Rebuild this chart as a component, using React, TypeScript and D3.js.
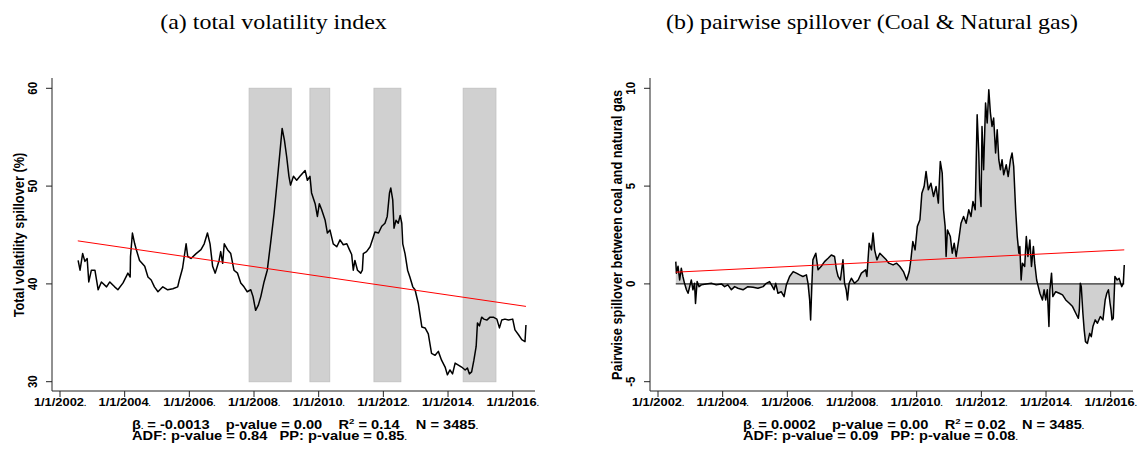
import React from "react";
import * as d3 from "d3";

// ---------- data ----------
const titleA = "(a) total volatility index";
const titleB = "(b) pairwise spillover (Coal & Natural gas)";
const yTitleA = "Total volatility spillover (%)";
const yTitleB = "Pairwise spillover between coal and natural gas";

const xTickYears = [2002, 2004, 2006, 2008, 2010, 2012, 2014, 2016];
const yTicksA = [30, 40, 50, 60];
const yTicksB = [-5, 0, 5, 10];

// shaded episodes (decimal year start, end)
const shadedPeriods: [number, number][] = [
  [2007.85, 2009.15],
  [2009.73, 2010.34],
  [2011.71, 2012.54],
  [2014.47, 2015.48],
];

// total volatility spillover (decimal year, %)
const totalSeries: [number, number][] = [
  [2002.56, 42.4], [2002.62, 41.4], [2002.7, 43.1], [2002.77, 42.3], [2002.84, 42.6],
  [2002.89, 40.2], [2002.97, 41.4], [2003.08, 41.4], [2003.13, 40.4], [2003.18, 39.4],
  [2003.28, 40.2], [2003.44, 39.7], [2003.54, 40.2], [2003.69, 39.7], [2003.79, 39.4],
  [2003.95, 40.1], [2004.1, 41.1], [2004.17, 40.7], [2004.18, 42.8], [2004.24, 45.2],
  [2004.31, 44.1], [2004.36, 43.5], [2004.46, 42.4], [2004.62, 41.8], [2004.72, 40.7],
  [2004.82, 40.4], [2004.92, 39.7], [2005.03, 39.2], [2005.18, 39.7], [2005.33, 39.4],
  [2005.49, 39.5], [2005.64, 39.7], [2005.69, 40.4], [2005.79, 41.6], [2005.9, 44.1],
  [2005.95, 42.8], [2006.05, 42.6], [2006.21, 43.1], [2006.36, 43.5], [2006.46, 44.1],
  [2006.56, 45.2], [2006.64, 44.1], [2006.72, 41.8], [2006.8, 41.1], [2006.92, 42.4],
  [2006.97, 43.3], [2007.03, 42.1], [2007.08, 44.1], [2007.18, 43.5], [2007.28, 43.1],
  [2007.38, 41.4], [2007.49, 41.1], [2007.59, 40.1], [2007.69, 39.7], [2007.79, 39.2],
  [2007.9, 39.4], [2007.97, 38.7], [2008.05, 37.3], [2008.13, 37.8], [2008.21, 38.7],
  [2008.31, 40.2], [2008.41, 41.4], [2008.51, 44.1], [2008.62, 47.2], [2008.72, 50.6],
  [2008.8, 53.4], [2008.87, 55.9], [2008.94, 54.7], [2009.01, 53.0], [2009.08, 51.0],
  [2009.13, 50.1], [2009.22, 51.0], [2009.32, 50.6], [2009.42, 51.0], [2009.58, 51.6],
  [2009.65, 50.6], [2009.73, 51.0], [2009.78, 49.3], [2009.89, 48.2], [2009.96, 46.9],
  [2010.02, 48.2], [2010.09, 47.6], [2010.2, 46.5], [2010.27, 45.2], [2010.35, 45.5],
  [2010.45, 44.1], [2010.56, 43.8], [2010.66, 44.5], [2010.76, 44.0], [2010.87, 44.1],
  [2010.95, 43.5], [2011.02, 43.0], [2011.07, 41.4], [2011.12, 42.4], [2011.2, 41.4],
  [2011.3, 41.1], [2011.35, 41.4], [2011.38, 43.1], [2011.48, 43.3], [2011.59, 43.8],
  [2011.69, 44.8], [2011.74, 45.3], [2011.85, 45.2], [2011.95, 45.9], [2012.05, 46.2],
  [2012.12, 46.9], [2012.19, 49.3], [2012.23, 49.8], [2012.29, 48.6], [2012.33, 45.7],
  [2012.39, 46.5], [2012.46, 46.2], [2012.52, 47.0], [2012.57, 46.2], [2012.6, 44.1],
  [2012.67, 43.1], [2012.75, 41.4], [2012.82, 40.7], [2012.91, 39.7], [2012.98, 39.4],
  [2013.08, 38.0], [2013.19, 35.6], [2013.29, 35.5], [2013.39, 34.9], [2013.49, 32.9],
  [2013.6, 32.7], [2013.7, 33.1], [2013.8, 32.2], [2013.91, 31.5], [2013.98, 30.7],
  [2014.06, 31.2], [2014.14, 30.8], [2014.22, 31.9], [2014.32, 31.7], [2014.42, 31.5],
  [2014.53, 31.2], [2014.6, 31.4], [2014.66, 30.8], [2014.73, 31.0], [2014.8, 32.2],
  [2014.87, 33.6], [2014.91, 36.0], [2014.97, 35.7], [2015.04, 36.6], [2015.11, 36.4],
  [2015.2, 36.3], [2015.3, 36.6], [2015.4, 36.6], [2015.51, 36.4], [2015.59, 35.5],
  [2015.66, 36.3], [2015.76, 36.4], [2015.87, 36.3], [2016.0, 36.4], [2016.07, 35.3],
  [2016.18, 34.8], [2016.28, 34.3], [2016.38, 34.1], [2016.41, 35.8],
];

// pairwise spillover coal & natural gas (decimal year, value)
const pairSeries: [number, number][] = [
  [2002.55, 1.14], [2002.57, 0.55], [2002.62, 0.9], [2002.67, 0.2], [2002.72, 0.8],
  [2002.77, 0.38], [2002.82, 0.03], [2002.88, -0.3], [2002.93, -0.48], [2002.98, -0.14],
  [2003.03, 0.2], [2003.08, -0.3], [2003.13, 0.03], [2003.16, -1.0], [2003.21, 0.12],
  [2003.27, -0.14], [2003.34, -0.05], [2003.49, 0.0], [2003.65, 0.03], [2003.8, -0.05],
  [2003.96, 0.0], [2004.06, -0.14], [2004.16, -0.05], [2004.27, -0.3], [2004.37, -0.14],
  [2004.47, -0.22], [2004.63, -0.3], [2004.78, -0.14], [2004.94, -0.17], [2005.09, -0.22],
  [2005.25, -0.14], [2005.35, 0.03], [2005.45, 0.12], [2005.54, -0.14], [2005.59, -0.3],
  [2005.64, 0.03], [2005.71, -0.48], [2005.81, -0.4], [2005.9, -0.65], [2005.97, -0.05],
  [2006.07, 0.38], [2006.18, 0.63], [2006.28, 0.55], [2006.38, 0.46], [2006.48, 0.38],
  [2006.59, 0.46], [2006.64, 0.03], [2006.69, -0.82], [2006.72, -1.84], [2006.76, 0.03],
  [2006.79, 1.23], [2006.88, 1.57], [2006.95, 0.72], [2007.05, 0.9], [2007.15, 1.14],
  [2007.26, 1.31], [2007.36, 1.48], [2007.46, 1.4], [2007.52, 0.72], [2007.57, 0.38],
  [2007.64, 0.2], [2007.72, 1.23], [2007.77, 0.03], [2007.82, -0.3], [2007.86, -0.82],
  [2007.91, 0.03], [2007.98, 0.29], [2008.08, 0.03], [2008.19, 0.2], [2008.29, 0.55],
  [2008.42, 0.72], [2008.46, 0.38], [2008.53, 2.08], [2008.6, 1.74], [2008.65, 2.6],
  [2008.7, 1.74], [2008.77, 1.23], [2008.86, 1.57], [2008.96, 1.4], [2009.06, 1.23],
  [2009.14, 1.06], [2009.27, 0.97], [2009.38, 1.06], [2009.48, 0.89], [2009.59, 0.63],
  [2009.69, 0.2], [2009.77, 0.63], [2009.82, 1.23], [2009.88, 2.17], [2009.95, 1.74],
  [2010.02, 2.94], [2010.1, 3.28], [2010.16, 4.64], [2010.23, 4.98], [2010.29, 5.75],
  [2010.36, 4.81], [2010.44, 5.15], [2010.52, 4.47], [2010.6, 4.98], [2010.67, 4.13],
  [2010.73, 6.26], [2010.79, 5.66], [2010.83, 3.79], [2010.88, 2.94], [2010.91, 1.4],
  [2010.95, 2.76], [2011.04, 2.42], [2011.1, 1.57], [2011.16, 2.08], [2011.22, 1.4],
  [2011.3, 2.25], [2011.37, 3.1], [2011.45, 3.45], [2011.53, 3.1], [2011.61, 3.79],
  [2011.68, 3.45], [2011.74, 4.21], [2011.81, 3.79], [2011.87, 8.65], [2011.92, 6.69],
  [2011.95, 4.81], [2011.99, 3.96], [2012.02, 8.05], [2012.07, 5.84], [2012.13, 9.25],
  [2012.18, 8.23], [2012.23, 9.93], [2012.28, 8.74], [2012.33, 8.05], [2012.38, 8.48],
  [2012.44, 6.69], [2012.49, 7.88], [2012.54, 6.35], [2012.59, 5.84], [2012.64, 6.35],
  [2012.69, 5.58], [2012.77, 6.09], [2012.83, 5.49], [2012.9, 6.35], [2012.95, 6.69],
  [2013.0, 6.01], [2013.06, 3.79], [2013.11, 2.42], [2013.16, 1.57], [2013.19, 1.91],
  [2013.23, 0.2], [2013.27, 1.06], [2013.34, 0.89], [2013.39, 2.42], [2013.44, 1.4],
  [2013.5, 2.25], [2013.55, 0.89], [2013.61, 1.91], [2013.65, 1.06], [2013.71, 0.2],
  [2013.76, -0.14], [2013.81, -0.48], [2013.89, -0.82], [2013.94, -0.3], [2013.99, -0.82],
  [2014.04, -0.3], [2014.09, -2.18], [2014.12, -0.3], [2014.17, 0.55], [2014.21, -0.65],
  [2014.3, -0.4], [2014.41, -0.48], [2014.51, -0.56], [2014.61, -0.82], [2014.72, -0.99],
  [2014.82, -1.16], [2014.92, -1.5], [2015.0, -1.76], [2015.03, -1.33], [2015.06, 0.03],
  [2015.09, -0.14], [2015.14, -1.5], [2015.18, -2.35], [2015.22, -2.95], [2015.28, -3.04],
  [2015.35, -2.53], [2015.4, -2.7], [2015.45, -2.18], [2015.52, -1.84], [2015.59, -2.01],
  [2015.68, -1.67], [2015.76, -1.84], [2015.83, -0.82], [2015.88, -0.48], [2015.93, -0.3],
  [2015.98, -0.99], [2016.01, -1.33], [2016.04, -1.84], [2016.08, -1.76], [2016.13, 0.38],
  [2016.2, 0.2], [2016.26, 0.29], [2016.34, -0.14], [2016.39, 0.03], [2016.42, 0.97],
];

// fitted linear trends (start / end)
const totalTrend: [number, number][] = [[2002.55, 44.4], [2016.41, 37.7]];
const pairTrend: [number, number][] = [[2002.55, 0.6], [2016.42, 1.74]];

const statsA = { beta: "-0.0013", p: "0.00", r2: "0.14", n: "3485", adf: "0.84", pp: "0.85" };
const statsB = { beta: "0.0002", p: "0.00", r2: "0.02", n: "3485", adf: "0.09", pp: "0.08" };

// ---------- layout ----------
const W = 1144;
const H = 450;
const SANS = "'Liberation Sans', Arial, Helvetica, sans-serif";
const SERIF = "'Liberation Serif', 'Times New Roman', serif";
const SX = 1.12; // horizontal stretch of axis text
const SX_N = 1.2; // horizontal stretch of the notes
const SX_T = 1.14; // horizontal stretch of the titles

type PanelProps = {
  ox: number;
  titleX: number;
  title: string;
  yTitle: string;
  yDomain: [number, number];
  yTicks: number[];
  series: [number, number][];
  trend: [number, number][];
  shaded?: [number, number][];
  area?: boolean;
  stats: typeof statsA;
  noteX: number;
};

function Panel({ ox, titleX, title, yTitle, yDomain, yTicks, series, trend, shaded, area, stats, noteX }: PanelProps) {
  const axisX = 52 + ox;
  const axisY = 391;
  const axisTop = 78;
  const axisRight = 535 + ox;
  const x = d3.scaleLinear().domain([2002, 2016]).range([60 + ox, 512.7 + ox]);
  const y = d3.scaleLinear().domain(yDomain).range([381.7, 88.3]);

  const line = d3.line<[number, number]>().x((d) => x(d[0])).y((d) => y(d[1]));
  const areaGen = d3
    .area<[number, number]>()
    .x((d) => x(d[0]))
    .y0(y(0))
    .y1((d) => y(d[1]));

  const first = series[0][0];
  const last = series[series.length - 1][0];

  return (
    <g>
      <text
        transform={`translate(${titleX},29) scale(${SX_T},1)`}
        textAnchor="middle"
        fontFamily={SERIF}
        fontSize={21}
        fill="#000"
      >
        {title}
      </text>

      {shaded &&
        shaded.map(([a, b], i) => (
          <rect
            key={i}
            x={x(a)}
            y={y(yDomain[1])}
            width={x(b) - x(a)}
            height={y(yDomain[0]) - y(yDomain[1])}
            fill="#d0d0d0"
            stroke="#c4c4c4"
            strokeWidth={1}
          />
        ))}

      {area && <path d={areaGen(series) || ""} fill="#d0d0d0" stroke="none" />}
      {area && <line x1={x(first)} x2={x(last)} y1={y(0)} y2={y(0)} stroke="#000" strokeWidth={1} />}

      <path d={line(series) || ""} fill="none" stroke="#000" strokeWidth={1.5} strokeLinejoin="round" />
      <path d={line(trend) || ""} fill="none" stroke="#ff0000" strokeWidth={1} />

      {/* axes */}
      <line x1={axisX} x2={axisX} y1={axisTop} y2={axisY} stroke="#222" strokeWidth={1} />
      <line x1={axisX} x2={axisRight} y1={axisY} y2={axisY} stroke="#222" strokeWidth={1} />

      {yTicks.map((t) => (
        <g key={t}>
          <line x1={axisX - 6} x2={axisX} y1={y(t)} y2={y(t)} stroke="#222" strokeWidth={1} />
          <text
            transform={`translate(${axisX - 15},${y(t)}) scale(${SX},1) rotate(-90)`}
            textAnchor="middle"
            fontFamily={SANS}
            fontWeight="bold"
            fontSize={11.5}
            fill="#000"
          >
            {t}
          </text>
        </g>
      ))}

      {xTickYears.map((yr) => (
        <g key={yr}>
          <line x1={x(yr)} x2={x(yr)} y1={axisY} y2={axisY + 6} stroke="#222" strokeWidth={1} />
          <text
            transform={`translate(${x(yr)},405.5) scale(${SX},1)`}
            textAnchor="middle"
            fontFamily={SANS}
            fontWeight="bold"
            fontSize={11.5}
            fill="#000"
          >
            {`1/1/${yr}`}
            <tspan fontSize={7}>.</tspan>
          </text>
        </g>
      ))}

      <text
        transform={`translate(${axisX - 28},${235}) scale(${SX},1) rotate(-90)`}
        textAnchor="middle"
        fontFamily={SANS}
        fontWeight="bold"
        fontSize={12.8}
        fill="#000"
      >
        {yTitle}
      </text>

      <text
        transform={`translate(${noteX},428.5) scale(${SX_N},1)`}
        fontFamily={SANS}
        fontWeight="bold"
        fontSize={12.2}
        fill="#000"
        xmlSpace="preserve"
      >
        {"\u03b2"}
        <tspan fontSize={7}>.</tspan>
        {` = ${stats.beta}    p-value = ${stats.p}    R`}
        <tspan dy={-5} fontSize={8}>2</tspan>
        <tspan dy={5}>{` = ${stats.r2}    N = ${stats.n}`}</tspan>
        <tspan fontSize={7}>.</tspan>
      </text>
      <text
        transform={`translate(${noteX},440) scale(${SX_N},1)`}
        fontFamily={SANS}
        fontWeight="bold"
        fontSize={12.2}
        fill="#000"
        xmlSpace="preserve"
      >
        {`ADF: p-value = ${stats.adf}   PP: p-value = ${stats.pp}`}
        <tspan fontSize={7}>.</tspan>
      </text>
    </g>
  );
}

export default function App() {
  return (
    <div style={{ position: "absolute", left: 0, top: 0, width: W, height: H, background: "#fff" }}>
      <svg width={W} height={H} viewBox={`0 0 ${W} ${H}`} style={{ display: "block" }}>
        <rect width={W} height={H} fill="#fff" />
        <Panel
          ox={0}
          titleX={273.5}
          title={titleA}
          yTitle={yTitleA}
          yDomain={[30, 60]}
          yTicks={yTicksA}
          series={totalSeries}
          trend={totalTrend}
          shaded={shadedPeriods}
          stats={statsA}
          noteX={132}
        />
        <Panel
          ox={598}
          titleX={872}
          title={titleB}
          yTitle={yTitleB}
          yDomain={[-5, 10]}
          yTicks={yTicksB}
          series={pairSeries}
          trend={pairTrend}
          area
          stats={statsB}
          noteX={743}
        />
      </svg>
    </div>
  );
}
